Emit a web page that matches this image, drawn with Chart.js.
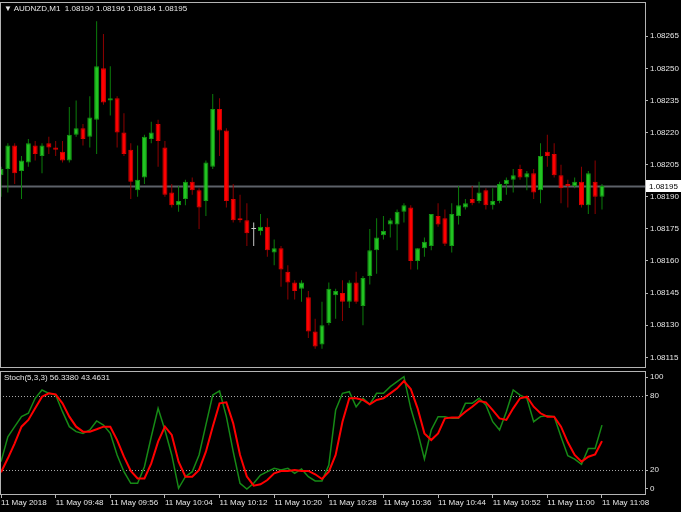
<!DOCTYPE html>
<html>
<head>
<meta charset="utf-8">
<script src="https://cdn.jsdelivr.net/npm/chart.js@4.4.0/dist/chart.umd.min.js"></script>
<style>
  html, body { margin: 0; padding: 0; background: #000; }
  #wrap { position: relative; width: 681px; height: 512px; background: #000; overflow: hidden; }
  #main { position: absolute; left: 0; top: 0; }
  #stoch { position: absolute; left: 0; top: 370px; }
  .lbl { position: absolute; color: #e6e6e6; font: 8px 'Liberation Sans', Arial, sans-serif; line-height: 11px; white-space: pre; }
</style>
</head>
<body>
<div id="wrap">
  <canvas id="main" width="681" height="370"></canvas>
  <canvas id="stoch" width="681" height="142"></canvas>
  <div class="lbl" style="left:4px;top:3px">▼ AUDNZD,M1  1.08190 1.08196 1.08184 1.08195</div>
  <div class="lbl" style="left:4px;top:372px">Stoch(5,3,3) 56.3380 43.4631</div>
</div>
<script>
// AUDNZD M1 bars, 09:40 .. 11:08
const open = [
  1.08200, 1.08203, 1.08214, 1.08202, 1.08206, 1.08214, 1.08209, 1.08215, 1.08213, 1.08211,
  1.08207, 1.08219, 1.08222, 1.08218, 1.08226, 1.08250, 1.08235, 1.08236, 1.08220, 1.08212,
  1.08193, 1.08199, 1.08217, 1.08224, 1.08213, 1.08192, 1.08186, 1.08189, 1.08197, 1.08193,
  1.08188, 1.08204, 1.08231, 1.08221, 1.08189, 1.08180, 1.08179, 1.08175, 1.08174, 1.08176,
  1.08164, 1.08166, 1.08155, 1.08150, 1.08147, 1.08143, 1.08127, 1.08121, 1.08131, 1.08144,
  1.08145, 1.08141, 1.08150, 1.08139, 1.08153, 1.08165, 1.08172, 1.08177, 1.08177, 1.08183,
  1.08185, 1.08160, 1.08166, 1.08167, 1.08181, 1.08180, 1.08167, 1.08181, 1.08185, 1.08189,
  1.08188, 1.08193, 1.08186, 1.08188, 1.08196, 1.08198, 1.08203, 1.08199, 1.08201, 1.08193,
  1.08211, 1.08210, 1.08200, 1.08196, 1.08195, 1.08197, 1.08186, 1.08197, 1.08190
];
const high = [
  1.08204, 1.08215, 1.08215, 1.08209, 1.08217, 1.08216, 1.08215, 1.08218, 1.08216, 1.08216,
  1.08232, 1.08235, 1.08224, 1.08237, 1.08272, 1.08266, 1.08251, 1.08237, 1.08229, 1.08215,
  1.08214, 1.08219, 1.08225, 1.08226, 1.08216, 1.08196, 1.08195, 1.08198, 1.08199, 1.08194,
  1.08207, 1.08238, 1.08236, 1.08222, 1.08196, 1.08191, 1.08187, 1.08178, 1.08182, 1.08180,
  1.08170, 1.08167, 1.08158, 1.08151, 1.08151, 1.08146, 1.08133, 1.08141, 1.08150, 1.08147,
  1.08151, 1.08151, 1.08155, 1.08153, 1.08175, 1.08180, 1.08181, 1.08180, 1.08184, 1.08187,
  1.08186, 1.08166, 1.08171, 1.08182, 1.08187, 1.08184, 1.08187, 1.08195, 1.08189, 1.08195,
  1.08197, 1.08194, 1.08194, 1.08197, 1.08199, 1.08203, 1.08205, 1.08202, 1.08203, 1.08215,
  1.08219, 1.08215, 1.08205, 1.08198, 1.08199, 1.08204, 1.08202, 1.08207, 1.08196
];
const low = [
  1.08190, 1.08192, 1.08196, 1.08189, 1.08204, 1.08207, 1.08201, 1.08210, 1.08209, 1.08206,
  1.08206, 1.08218, 1.08214, 1.08213, 1.08210, 1.08233, 1.08228, 1.08213, 1.08209, 1.08189,
  1.08190, 1.08196, 1.08215, 1.08204, 1.08190, 1.08185, 1.08183, 1.08186, 1.08191, 1.08175,
  1.08181, 1.08203, 1.08209, 1.08185, 1.08178, 1.08178, 1.08167, 1.08167, 1.08172, 1.08162,
  1.08158, 1.08148, 1.08142, 1.08142, 1.08141, 1.08124, 1.08119, 1.08119, 1.08130, 1.08133,
  1.08132, 1.08138, 1.08140, 1.08130, 1.08149, 1.08154, 1.08170, 1.08171, 1.08165, 1.08178,
  1.08156, 1.08156, 1.08162, 1.08165, 1.08176, 1.08167, 1.08164, 1.08177, 1.08184, 1.08186,
  1.08187, 1.08184, 1.08184, 1.08187, 1.08191, 1.08192, 1.08198, 1.08193, 1.08189, 1.08187,
  1.08204, 1.08199, 1.08187, 1.08185, 1.08194, 1.08185, 1.08182, 1.08182, 1.08184
];
const close = [
  1.08203, 1.08214, 1.08201, 1.08207, 1.08215, 1.08210, 1.08214, 1.08213, 1.08212, 1.08207,
  1.08219, 1.08222, 1.08217, 1.08227, 1.08251, 1.08234, 1.08236, 1.08220, 1.08210, 1.08197,
  1.08198, 1.08218, 1.08220, 1.08216, 1.08191, 1.08186, 1.08188, 1.08197, 1.08193, 1.08185,
  1.08206, 1.08231, 1.08221, 1.08188, 1.08179, 1.08179, 1.08173, 1.08175, 1.08176, 1.08165,
  1.08166, 1.08156, 1.08150, 1.08146, 1.08150, 1.08127, 1.08120, 1.08130, 1.08147, 1.08146,
  1.08141, 1.08150, 1.08141, 1.08152, 1.08165, 1.08171, 1.08174, 1.08179, 1.08183, 1.08186,
  1.08160, 1.08166, 1.08169, 1.08182, 1.08177, 1.08168, 1.08182, 1.08186, 1.08187, 1.08187,
  1.08192, 1.08186, 1.08188, 1.08196, 1.08198, 1.08200, 1.08199, 1.08201, 1.08192, 1.08209,
  1.08209, 1.08200, 1.08194, 1.08195, 1.08197, 1.08186, 1.08201, 1.08190, 1.08195
];
// Stochastic(5,3,3): main (%K) and signal (%D)
const stochK = [
  26.9, 47.0, 55.1, 63.2, 65.9, 78.0, 84.7, 82.0, 80.6, 67.2,
  55.1, 51.1, 49.7, 52.4, 59.7, 56.4, 49.7, 32.3, 18.8, 9.4,
  9.4, 22.8, 47.0, 69.9, 52.4, 32.3, 5.4, 14.8, 18.8, 32.3,
  56.5, 80.6, 83.9, 63.2, 34.9, 9.4, 4.8, 9.4, 16.1, 18.8,
  21.5, 20.2, 21.5, 17.5, 21.0, 14.8, 11.3, 11.3, 24.2, 68.5,
  82.0, 83.3, 71.2, 78.0, 73.1, 82.0, 82.0, 87.4, 91.4, 95.4,
  69.9, 51.1, 29.0, 52.4, 63.2, 63.2, 61.8, 61.8, 73.9, 73.9,
  78.0, 72.6, 59.1, 52.4, 67.2, 84.7, 80.6, 78.0, 59.1, 63.2,
  64.0, 63.2, 47.0, 31.7, 29.0, 24.7, 37.6, 37.6, 56.338
];
const stochD = [
  18.3, 29.6, 41.7, 55.1, 60.5, 69.9, 79.3, 82.0, 81.2, 73.9,
  63.2, 55.1, 51.1, 51.1, 53.0, 55.1, 55.1, 44.3, 30.9, 19.4,
  13.4, 13.4, 25.5, 43.0, 55.1, 48.4, 26.9, 14.8, 14.8, 20.2,
  34.9, 55.1, 73.9, 74.7, 57.8, 32.3, 14.8, 7.5, 8.6, 12.1,
  17.5, 19.4, 19.4, 20.2, 19.4, 19.4, 16.7, 12.9, 18.8, 32.3,
  59.1, 78.0, 78.0, 76.6, 73.1, 76.6, 78.0, 82.0, 86.0, 91.9,
  85.5, 69.9, 49.7, 44.3, 49.7, 61.8, 62.4, 62.4, 67.2, 71.2,
  75.8, 74.7, 68.5, 61.8, 60.5, 69.9, 78.0, 79.3, 71.2, 65.9,
  63.2, 63.2, 55.1, 42.5, 32.3, 26.9, 30.9, 32.8, 43.4631
];
const timeBars = [0, 8, 16, 24, 32, 40, 48, 56, 64, 72, 80, 88];
const timeLabels = ['11 May 2018', '11 May 09:48', '11 May 09:56', '11 May 10:04', '11 May 10:12', '11 May 10:20',
  '11 May 10:28', '11 May 10:36', '11 May 10:44', '11 May 10:52', '11 May 11:00', '11 May 11:08'];
const priceTicks = [1.08115, 1.08130, 1.08145, 1.08160, 1.08175, 1.08190, 1.08205, 1.08220, 1.08235, 1.08250, 1.08265];
const stochTicks = [100, 80, 20, 0];
const stochLevels = [80, 20];
const lastPrice = 1.08195;

const FONT = { family: "'Liberation Sans', Arial, sans-serif", size: 8 };
const TXT = '#e6e6e6';
const FRAME = '#b4b4b4';

function pick(i, up, down, flat) {
  if (close[i] > open[i]) return up;
  if (close[i] < open[i]) return down;
  return flat;
}

// fixed right axis width, no extra label padding above/below the plot
function fitRight(s) {
  s.width = 36;
  s.paddingTop = 0;
  s.paddingBottom = 0;
}

const framePlugin = {
  id: 'frame',
  afterDraw(chart) {
    const { ctx, chartArea: a } = chart;
    ctx.save();
    ctx.strokeStyle = FRAME;
    ctx.lineWidth = 1;
    ctx.strokeRect(a.left + 0.5, a.top + 0.5, a.right - a.left, a.bottom - a.top - 1);
    ctx.restore();
  }
};

const priceLine = {
  id: 'priceLine',
  beforeDatasetsDraw(chart) {
    const { ctx, chartArea: a } = chart;
    const y = Math.round(chart.scales.y.getPixelForValue(lastPrice)) + 0.5;
    ctx.save();
    ctx.strokeStyle = '#5c6168';
    ctx.lineWidth = 2;
    ctx.beginPath(); ctx.moveTo(a.left, y); ctx.lineTo(a.right, y); ctx.stroke();
    ctx.restore();
  },
  afterDraw(chart) {
    const { ctx, chartArea: a } = chart;
    const y = Math.round(chart.scales.y.getPixelForValue(lastPrice));
    ctx.save();
    ctx.fillStyle = '#ffffff';
    ctx.fillRect(a.right + 1, y - 6, 35, 12);
    ctx.fillStyle = '#000000';
    ctx.font = "8px 'Liberation Sans', Arial, sans-serif";
    ctx.textBaseline = 'middle';
    ctx.fillText(lastPrice.toFixed(5), a.right + 4, y + 0.5);
    ctx.restore();
  }
};

const levelLines = {
  id: 'levels',
  beforeDatasetsDraw(chart) {
    const { ctx, chartArea: a } = chart;
    ctx.save();
    ctx.strokeStyle = '#a8a8a8';
    ctx.lineWidth = 1;
    ctx.setLineDash([1, 2]);
    stochLevels.forEach(v => {
      const y = Math.round(chart.scales.y.getPixelForValue(v)) + 0.5;
      ctx.beginPath(); ctx.moveTo(a.left, y); ctx.lineTo(a.right, y); ctx.stroke();
    });
    ctx.restore();
  }
};

const wicks = open.map((o, i) => ({ x: i, y: [low[i], high[i]] }));
const bodies = open.map((o, i) => ({ x: i, y: [o, close[i]] }));

new Chart(document.getElementById('main'), {
  type: 'bar',
  data: {
    datasets: [
      {
        data: wicks, grouped: false, order: 2, barThickness: 1, inflateAmount: 0, borderWidth: 0,
        backgroundColor: c => pick(c.dataIndex, '#0b7d0b', '#8e0000', '#c8c8c8')
      },
      {
        data: bodies, grouped: false, order: 1, barThickness: 5, inflateAmount: 0, minBarLength: 1,
        borderWidth: 1, borderSkipped: false,
        backgroundColor: c => pick(c.dataIndex, '#22c422', '#ff0000', '#c8c8c8'),
        borderColor: c => pick(c.dataIndex, '#129812', '#d80000', '#c8c8c8')
      }
    ]
  },
  options: {
    responsive: false,
    animation: false,
    layout: { padding: { top: 2, left: 0, right: 0, bottom: 2 } },
    plugins: { legend: { display: false }, tooltip: { enabled: false } },
    scales: {
      x: { type: 'linear', offset: false, min: -0.15, max: 94.3, display: false },
      y: {
        position: 'right', min: 1.08110, max: 1.08281,
        afterBuildTicks: s => { s.ticks = priceTicks.map(v => ({ value: v })); },
        afterFit: fitRight,
        ticks: { color: TXT, font: FONT, padding: 2, callback: v => v.toFixed(5) },
        grid: { drawOnChartArea: false, drawTicks: true, tickLength: 3, color: FRAME },
        border: { display: false }
      }
    }
  },
  plugins: [priceLine, framePlugin]
});

new Chart(document.getElementById('stoch'), {
  type: 'line',
  data: {
    datasets: [
      { data: stochK.map((v, i) => ({ x: i, y: v })), borderColor: '#168a16', borderWidth: 1.5, pointRadius: 0, order: 2 },
      { data: stochD.map((v, i) => ({ x: i, y: v })), borderColor: '#ff0000', borderWidth: 2, pointRadius: 0, order: 1 }
    ]
  },
  options: {
    responsive: false,
    animation: false,
    layout: { padding: { top: 1, left: 0, right: 0, bottom: 0 } },
    plugins: { legend: { display: false }, tooltip: { enabled: false } },
    scales: {
      x: {
        type: 'linear', offset: false, min: -0.15, max: 94.3,
        afterBuildTicks: s => { s.ticks = timeBars.map(v => ({ value: v })); },
        afterFit: s => { s.height = 17; s.paddingLeft = 0; s.paddingRight = 0; },
        ticks: { autoSkip: false, maxRotation: 0, align: 'start', padding: 0, color: TXT, font: FONT,
                 callback: (v, i) => timeLabels[i] },
        grid: { drawOnChartArea: false, drawTicks: true, tickLength: 3, color: FRAME },
        border: { display: false }
      },
      y: {
        position: 'right', min: 0, max: 100,
        // the 100 and 0 labels sit just inside the panel edges
        afterBuildTicks: s => { s.ticks = stochTicks.map(v => ({ value: v === 100 ? 95 : v === 0 ? 5 : v })); },
        afterFit: fitRight,
        ticks: { color: TXT, font: FONT, padding: 2, callback: (v, i) => String(stochTicks[i]) },
        grid: { drawOnChartArea: false, drawTicks: true, tickLength: 3, color: FRAME },
        border: { display: false }
      }
    }
  },
  plugins: [levelLines, framePlugin]
});
</script>
</body>
</html>
